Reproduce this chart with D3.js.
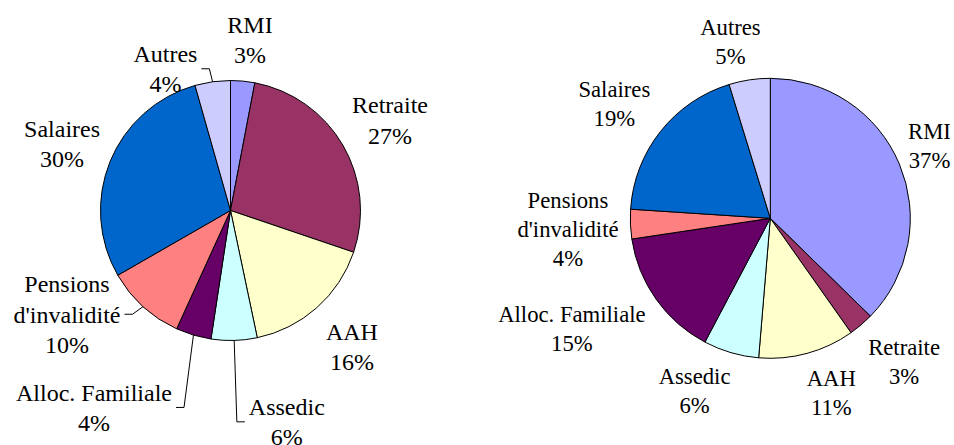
<!DOCTYPE html>
<html>
<head>
<meta charset="utf-8">
<script src="https://cdn.jsdelivr.net/npm/d3@7"></script>
</head>
<body style="margin:0">
<svg id="chart" width="954" height="445"></svg>
<script>
// categories, same order in both pies (clockwise from 12 o'clock)
var categories = ["RMI","Retraite","AAH","Assedic","Alloc. Familiale","Pensions\nd'invalidité","Salaires","Autres"];
var sliceColors = ["#9999FF","#993366","#FFFFCC","#CCFFFF","#660066","#FF8080","#0066CC","#CCCCFF"];

// left pie
var leftValues = [3.0,27.2,16.5,5.7,4.4,9.9,28.9,4.4];
var leftPct = ["3%","27%","16%","6%","4%","10%","30%","4%"];

// right pie
var rightValues = [37.3,2.9,11.1,6.4,14.9,3.4,19.2,4.75];
var rightPct = ["37%","3%","11%","6%","15%","4%","19%","5%"];

var width=954;
var height=445;
var fontFamily="Liberation Serif";
var leaderJobs=[];

var svg=d3.select("#chart");

svg.append("rect")
.attr("width", width)
.attr("height", height)
.attr("fill", "#fff");

var drawPie=function(opt)
{
var pie=d3.pie().sort(null).value(function(d){return d;});
var arcs=pie(opt.values);
var arc=d3.arc().innerRadius(0).outerRadius(opt.r);

svg.append("g")
.attr("transform","translate("+opt.cx+","+opt.cy+")")
.selectAll("path")
.data(arcs)
.enter()
.append("path")
.attr("d", arc)
.attr("fill", function(d,i){return sliceColors[i];})
.attr("stroke", "#000")
.attr("stroke-width", 1)
.attr("stroke-linejoin","round");

var lr=opt.r+45;
var lh=opt.lineHeight;

arcs.forEach(function(d,i)
{
  var mid=(d.startAngle+d.endAngle)/2;
  var lx=opt.cx+Math.sin(mid)*lr+opt.nudge[i][0];
  var ly=opt.cy-Math.cos(mid)*lr+opt.nudge[i][1];
  var lines=categories[i].split("\n").concat([opt.pct[i]]);
  var n=lines.length;
  var nodes=[];

  lines.forEach(function(s,k)
  {
    var t=svg.append("text")
    .attr("x", lx)
    .attr("y", ly+(k-(n-1)/2)*lh+0.35*opt.fontSize)
    .attr("text-anchor","middle")
    .attr("font-size", opt.fontSize)
    .style("font-family", fontFamily)
    .text(s);
    nodes.push(t.node());
  });

  if(opt.leaders.indexOf(i)>=0)
  {
    leaderJobs.push({
      nodes:nodes, lx:lx, ly:ly,
      px:opt.cx+Math.sin(mid)*opt.r,
      py:opt.cy-Math.cos(mid)*opt.r
    });
  }
});
};

drawPie({
cx:230.5, cy:210.5, r:130,
values:leftValues, pct:leftPct,
fontSize:24, lineHeight:30.5,
leaders:[3,4,5,7],
nudge:[[3,3.5],[8.3,-2.5],[5.3,5.4],[51.4,36.4],[-86.6,29.2],[-45.7,-25.7],[-6.3,-0.9],[-41,31.6]]
});

drawPie({
cx:770.3, cy:218.3, r:140,
values:rightValues, pct:rightPct,
fontSize:22.7, lineHeight:29,
leaders:[],
nudge:[[-11.3,-1.4],[13.8,2.5],[12.4,-4],[-23.8,-5.8],[-47.5,3.1],[-17.5,2.9],[-10.8,0],[-12.3,5.7]]
});

// leader lines need the text widths, so measure after fonts are in
document.fonts.ready.then(function()
{
leaderJobs.forEach(function(j)
{
  var boxes=j.nodes.map(function(nd){return nd.getBBox();});
  var left=d3.min(boxes,function(b){return b.x;});
  var right=d3.max(boxes,function(b){return b.x+b.width;});
  var x0,x1;
  if(j.lx<j.px){x0=right+4;x1=x0+8;}
  else{x0=left-4;x1=x0-8;}
  svg.append("path")
  .attr("d","M"+x0+","+j.ly+"L"+x1+","+j.ly+"L"+j.px+","+j.py)
  .attr("fill","none")
  .attr("stroke","#000")
  .attr("stroke-width",1);
});
});
</script>
</body>
</html>
